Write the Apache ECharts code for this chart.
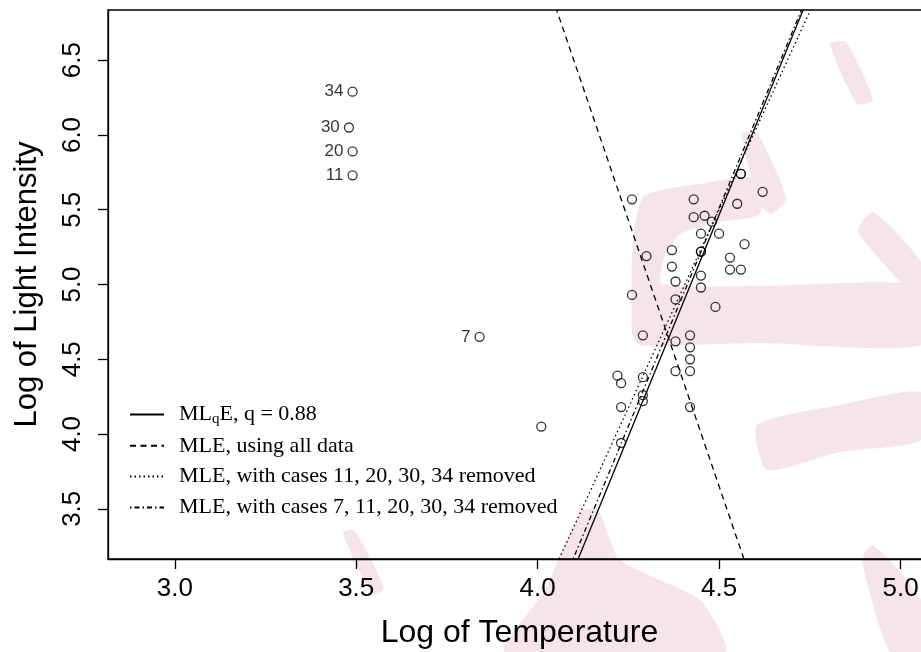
<!DOCTYPE html>
<html>
<head>
<meta charset="utf-8">
<script src="https://cdn.jsdelivr.net/npm/echarts@6/dist/echarts.min.js"></script>
<style>html,body{margin:0;padding:0;background:#fff;}#chart{width:921px;height:652px;}</style>
</head>
<body>
<div id="chart"></div>
<script>
// ---- data (starsCYG: log temperature vs log light intensity) ----
var caseIds = [1,2,3,4,5,6,7,8,9,10,11,12,13,14,15,16,17,18,19,20,21,22,23,24,25,26,27,28,29,30,31,32,33,34,35,36,37,38,39,40,41,42,43,44,45,46,47];
var logTemp = [4.37,4.56,4.26,4.56,4.30,4.46,3.84,4.57,4.26,4.37,3.49,4.43,4.48,4.01,4.29,4.42,4.23,4.42,4.23,3.49,4.29,4.29,4.42,4.49,4.38,4.42,4.29,4.38,4.22,3.48,4.38,4.56,4.45,3.49,4.23,4.62,4.53,4.45,4.53,4.43,4.38,4.45,4.50,4.45,4.55,4.45,4.42];
var logLight = [5.23,5.74,4.93,5.74,5.19,5.46,4.65,5.27,5.57,5.12,5.73,5.45,5.42,4.05,4.26,4.58,3.94,4.18,4.18,5.89,4.38,4.22,4.42,4.85,5.02,4.66,4.66,4.90,4.39,6.05,4.42,5.10,5.22,6.29,4.34,5.62,5.10,5.22,5.18,5.57,4.62,5.06,5.34,5.34,5.54,4.98,4.50];
var labelledCases = [7, 11, 20, 30, 34];

// fitted lines: light = intercept + slope * temp
var fitNames = ['MLqE', 'MLE, using all data', 'MLE, with cases 11, 20, 30, 34 removed', 'MLE, with cases 7, 11, 20, 30, 34 removed'];
var fitIntercepts = [-21.193, 35.673, -18.358, -20.751];
var fitSlopes = [5.924, -7.116, 5.302, 5.836];

var xTicks = [3.0, 3.5, 4.0, 4.5, 5.0];
var yTicks = [3.5, 4.0, 4.5, 5.0, 5.5, 6.0, 6.5];
var xRange = [2.816, 5.084];
var yRange = [3.164, 6.836];

// ---- build ----
var SANS = '"Liberation Sans", Arial, Helvetica, sans-serif';
var SERIF = '"Liberation Serif", "Times New Roman", serif';
var LW = 1.3;
var dashTypes = ['solid', [6, 4.5], [1.5, 3], [1.5, 3, 5, 3]];
var WM = '#f5e5ea';

var pts = caseIds.map(function (id, i) {
  var item = { value: [logTemp[i], logLight[i]] };
  if (labelledCases.indexOf(id) >= 0) {
    item.label = { show: true, formatter: String(id) };
  }
  return item;
});

var lineSeries = fitNames.map(function (name, k) {
  var a = fitIntercepts[k], b = fitSlopes[k];
  var x0 = (yRange[0] - a) / b, x1 = (yRange[1] - a) / b;
  return {
    name: name,
    type: 'line',
    data: [[x0, yRange[0]], [x1, yRange[1]]],
    symbol: 'none',
    clip: true,
    silent: true,
    z: 3,
    itemStyle: { color: '#000' },
    lineStyle: { color: '#000', width: LW, type: dashTypes[k] }
  };
});

// faint background watermark (decorative)
function wm(points) {
  return { type: 'polygon', silent: true, z: -10, shape: { points: points, smooth: 0.2 }, style: { fill: WM } };
}
var watermark = [
  wm([[830,44],[846,42],[873,100],[857,104]]),
  wm([[742,134],[757,133],[786,198],[772,214],[760,205]]),
  wm([[632,332],[633,240],[644,196],[700,184],[756,178],[760,214],[720,222],[680,234],[664,258],[662,284],[760,286],[921,286],[921,345],[760,343],[640,345]]),
  wm([[858,232],[873,212],[921,262],[921,300]]),
  wm([[757,425],[840,405],[921,392],[921,440],[840,452],[767,470]]),
  wm([[580,512],[598,510],[620,560],[700,600],[725,652],[505,652],[545,590]]),
  wm([[343,533],[354,530],[384,588],[372,594]]),
  wm([[873,545],[921,600],[921,652],[890,652],[862,560]])
];

var chart = echarts.init(document.getElementById('chart'), null, { renderer: 'canvas' });
chart.setOption({
  animation: false,
  backgroundColor: '#fff',
  graphic: watermark,
  grid: { left: 108, top: 10, width: 823, height: 549, show: true, borderColor: '#000', borderWidth: LW,
    backgroundColor: 'transparent', containLabel: false, outerBoundsMode: 'none' },
  xAxis: {
    type: 'value', min: xRange[0], max: xRange[1],
    splitLine: { show: false },
    axisLine: { show: true, onZero: false, lineStyle: { color: '#000', width: LW } },
    axisTick: { show: true, length: 10, customValues: xTicks, lineStyle: { color: '#000', width: LW } },
    axisLabel: { show: true, customValues: xTicks, margin: 17, fontSize: 26, fontFamily: SANS, color: '#000',
      hideOverlap: false, formatter: function (v) { return v.toFixed(1); } },
    name: 'Log of Temperature', nameLocation: 'middle', nameGap: 58,
    nameTextStyle: { fontSize: 32, fontFamily: SANS, color: '#000' }
  },
  yAxis: {
    type: 'value', min: yRange[0], max: yRange[1],
    splitLine: { show: false },
    axisLine: { show: true, onZero: false, lineStyle: { color: '#000', width: LW } },
    axisTick: { show: true, length: 10, customValues: yTicks, lineStyle: { color: '#000', width: LW } },
    axisLabel: { show: true, customValues: yTicks, rotate: 90, margin: 22, fontSize: 26, fontFamily: SANS, color: '#000',
      formatter: function (v) { return v.toFixed(1); } },
    name: 'Log of Light Intensity', nameLocation: 'middle', nameGap: 65, nameRotate: 90,
    nameTextStyle: { fontSize: 31, fontFamily: SANS, color: '#000' }
  },
  legend: {
    data: fitNames,
    orient: 'vertical',
    left: 129, top: 402,
    padding: 0,
    itemWidth: 34, itemHeight: 14, itemGap: 6.8,
    selectedMode: false,
    itemStyle: { color: 'rgba(0,0,0,0)', borderWidth: 0, opacity: 0 },
    textStyle: { fontFamily: SERIF, fontSize: 22, color: '#000', lineHeight: 24, padding: [0, 0, 0, 10],
      rich: {
        a: { fontFamily: SERIF, fontSize: 22, color: '#000', lineHeight: 24 },
        s: { fontFamily: SERIF, fontSize: 15, color: '#000', lineHeight: 24, padding: [10, 0, 0, 0] }
      } },
    formatter: function (name) {
      if (name === 'MLqE') return '{a|ML}{s|q}{a|E, q = 0.88}';
      return name;
    }
  },
  series: [{
    type: 'scatter',
    data: pts,
    symbol: 'circle',
    symbolSize: 9,
    z: 4,
    itemStyle: { color: 'rgba(0,0,0,0)', borderColor: '#000', borderWidth: LW },
    label: { show: false, position: 'left', distance: 4, fontSize: 17, fontFamily: SANS, color: '#000' }
  }].concat(lineSeries)
});
</script>
</body>
</html>
